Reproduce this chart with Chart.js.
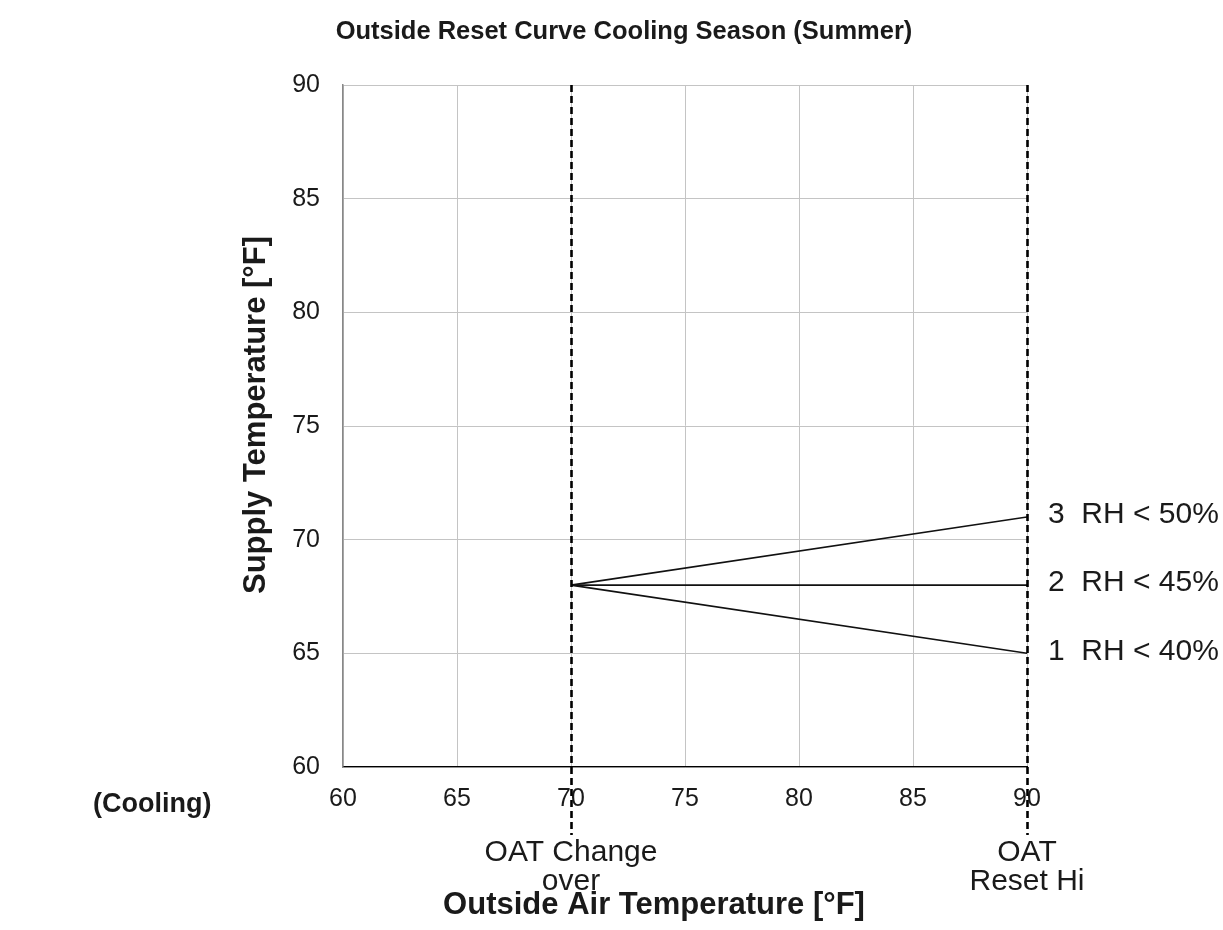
<!DOCTYPE html>
<html><head><meta charset="utf-8">
<script src="https://cdn.jsdelivr.net/npm/chart.js@4.4.0/dist/chart.umd.min.js"></script>
<style>html,body{margin:0;padding:0;background:#fff;} canvas{display:block;}</style>
</head><body>
<canvas id="c" width="1223" height="930" style="width:1223px;height:930px"></canvas>
<script>
const chartTitle = 'Outside Reset Curve Cooling Season (Summer)';
const xAxisTitle = 'Outside Air Temperature [°F]';
const yAxisTitle = 'Supply Temperature [°F]';
const seasonLabel = '(Cooling)';
const xTicks = [60, 65, 70, 75, 80, 85, 90];
const yTicks = [60, 65, 70, 75, 80, 85, 90];
const curveStartX = 70;
const curveEndX = 90;
const curveStartY = [68, 68, 68];
const curveEndY = [65, 68, 71];
const curveLabels = ['1  RH < 40%', '2  RH < 45%', '3  RH < 50%'];
const markerX = [70, 90];
const markerLabels = [['OAT Change', 'over'], ['OAT', 'Reset Hi']];

const TXT = '#1a1a1a';
const FAM = '"Liberation Sans", Arial, Helvetica, sans-serif';

const datasets = curveEndY.map((ey, i) => ({
  label: curveLabels[i],
  data: [{x: curveStartX, y: curveStartY[i]}, {x: curveEndX, y: ey}],
  borderColor: '#111',
  borderWidth: 1.6,
  pointRadius: 0,
  fill: false,
  tension: 0
}));

const extras = {
  id: 'extras',
  afterDraw(chart) {
    const ctx = chart.ctx;
    const xs = chart.scales.x, ys = chart.scales.y;
    const area = chart.chartArea;
    ctx.save();
    // dashed marker lines
    ctx.strokeStyle = '#000';
    ctx.lineWidth = 2.6;
    ctx.setLineDash([7, 4]);
    markerX.forEach(v => {
      const px = Math.round(xs.getPixelForValue(v)) + 0.5;
      ctx.beginPath();
      ctx.moveTo(px, area.top);
      ctx.lineTo(px, 835);
      ctx.stroke();
    });
    ctx.setLineDash([]);
    ctx.fillStyle = TXT;
    // curve labels
    ctx.font = '30px ' + FAM;
    ctx.textAlign = 'left';
    ctx.textBaseline = 'middle';
    curveEndY.forEach((v, i) => {
      ctx.fillText(curveLabels[i], xs.getPixelForValue(curveEndX) + 21, ys.getPixelForValue(v) - 2);
    });
    // marker labels
    ctx.textAlign = 'center';
    ctx.textBaseline = 'alphabetic';
    markerX.forEach((v, i) => {
      const px = xs.getPixelForValue(v);
      ctx.fillText(markerLabels[i][0], px, 861);
      ctx.fillText(markerLabels[i][1], px, 890);
    });
    // titles
    ctx.font = 'bold 25.5px ' + FAM;
    ctx.fillText(chartTitle, 624, 39);
    ctx.font = 'bold 31px ' + FAM;
    ctx.fillText(xAxisTitle, 654, 914);
    ctx.font = 'bold 27px ' + FAM;
    ctx.textAlign = 'left';
    ctx.fillText(seasonLabel, 93, 812);
    ctx.save();
    ctx.font = 'bold 31px ' + FAM;
    ctx.translate(265, 415);
    ctx.rotate(-Math.PI / 2);
    ctx.textAlign = 'center';
    ctx.fillText(yAxisTitle, 0, 0);
    ctx.restore();
    ctx.restore();
  }
};

new Chart(document.getElementById('c'), {
  type: 'line',
  data: { datasets },
  options: {
    responsive: false,
    animation: false,
    devicePixelRatio: 1,
    layout: { padding: { top: 85, right: 196, bottom: 0, left: 0 } },
    plugins: { legend: { display: false }, tooltip: { enabled: false }, title: { display: false } },
    scales: {
      x: {
        type: 'linear',
        min: xTicks[0], max: xTicks[xTicks.length - 1],
        afterBuildTicks: s => { s.ticks = xTicks.map(v => ({ value: v })); },
        afterFit: s => { s.height = 163; },
        grid: { color: '#c4c4c4', lineWidth: 1, drawTicks: false },
        border: { color: '#000', width: 1.2 },
        ticks: { color: TXT, padding: 17, font: { family: FAM, size: 25 }, maxRotation: 0 }
      },
      y: {
        type: 'linear',
        min: yTicks[0], max: yTicks[yTicks.length - 1],
        afterBuildTicks: s => { s.ticks = yTicks.map(v => ({ value: v })); },
        afterFit: s => { s.width = 343; },
        grid: { color: '#c4c4c4', lineWidth: 1, drawTicks: false },
        border: { color: '#888', width: 1.5 },
        ticks: { color: TXT, padding: 23, font: { family: FAM, size: 25 } }
      }
    }
  },
  plugins: [extras]
});
</script>
</body></html>
